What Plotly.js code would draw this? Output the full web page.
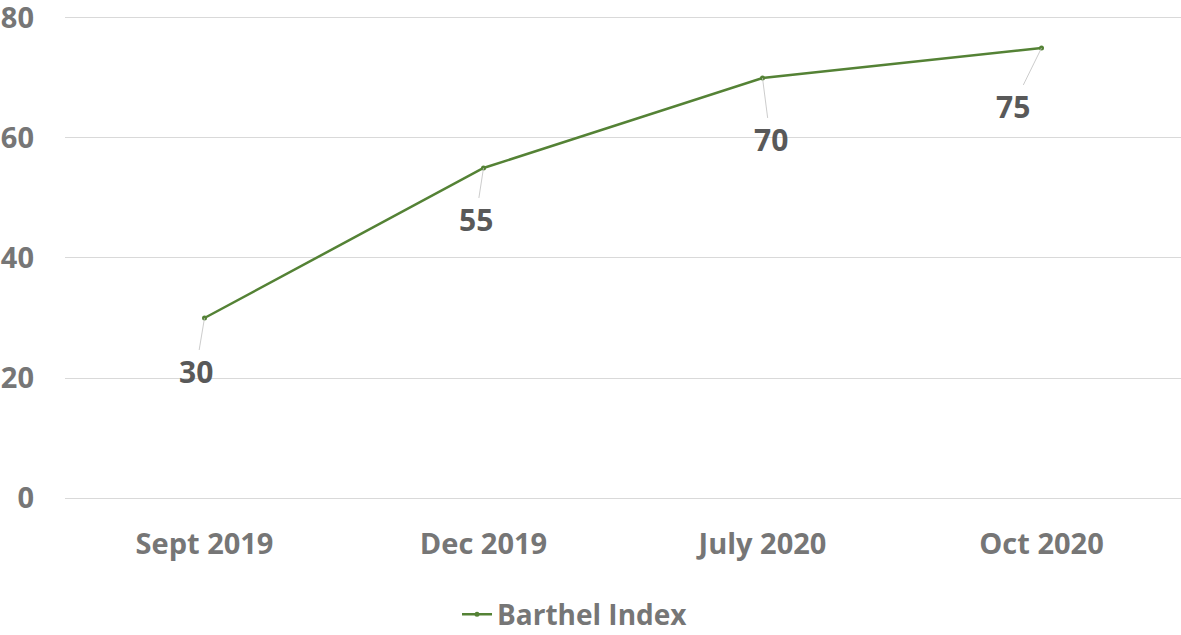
<!DOCTYPE html>
<html>
<head>
<meta charset="utf-8">
<script src="https://cdn.plot.ly/plotly-3.0.1.min.js"></script>
<style>html,body{margin:0;padding:0;background:#fff}#chart{width:1181px;height:635px}</style>
</head>
<body>
<div id="chart"></div>
<script>
const categories = ["Sept 2019", "Dec 2019", "July 2020", "Oct 2020"];
const barthelIndex = [30, 55, 70, 75];
const yTicks = [0, 20, 40, 60, 80];
const seriesName = "Barthel Index";
// label offsets (pixels) for the leader-lined data labels
const labelOffsetX = [-9, -8, 8, -29];
const labelOffsetY = [54, 52, 62, 59];

const trace = {
  x: categories,
  y: barthelIndex,
  type: "scatter",
  mode: "lines+markers",
  name: seriesName,
  line: {color: "#548235", width: 2.5},
  marker: {color: "#548235", size: 5}
};

const annotations = categories.map((c, i) => ({
  x: c, y: barthelIndex[i], xref: "x", yref: "y",
  text: String(barthelIndex[i]),
  showarrow: true, arrowhead: 0, arrowwidth: 0.8, arrowcolor: "#bfbfbf",
  ax: labelOffsetX[i], ay: labelOffsetY[i], standoff: 0,
  font: {family: "Open Sans", size: 30, color: "#595959", weight: "bold"}
}));

const layout = {
  width: 1181, height: 635,
  margin: {l: 65, r: 0, t: 16, b: 137, autoexpand: false},
  paper_bgcolor: "#ffffff", plot_bgcolor: "#ffffff",
  font: {family: "Open Sans", color: "#767676"},
  showlegend: true,
  legend: {orientation: "h", x: 0.457, xanchor: "center", y: -0.19, yanchor: "top",
           font: {family: "Open Sans", size: 28, color: "#767676", weight: "bold"}, itemwidth: 30},
  xaxis: {type: "category", range: [-0.5, 3.5], showgrid: false, zeroline: false, showline: false,
          automargin: false,
          ticks: "", tickfont: {family: "Open Sans", size: 29, color: "#767676", weight: "bold"},
          ticklabelstandoff: 26},
  yaxis: {range: [0, 80.33], tickvals: yTicks, showgrid: true, gridcolor: "#d9d9d9", gridwidth: 1,
          automargin: false, ticklabeloverflow: "allow",
          zeroline: true, zerolinecolor: "#d9d9d9", zerolinewidth: 1, showline: false, ticks: "",
          tickfont: {family: "Open Sans", size: 29, color: "#767676", weight: "bold"},
          ticklabelstandoff: 30},
  annotations: annotations
};

Plotly.newPlot("chart", [trace], layout, {displayModeBar: false, staticPlot: true});
</script>
</body>
</html>
